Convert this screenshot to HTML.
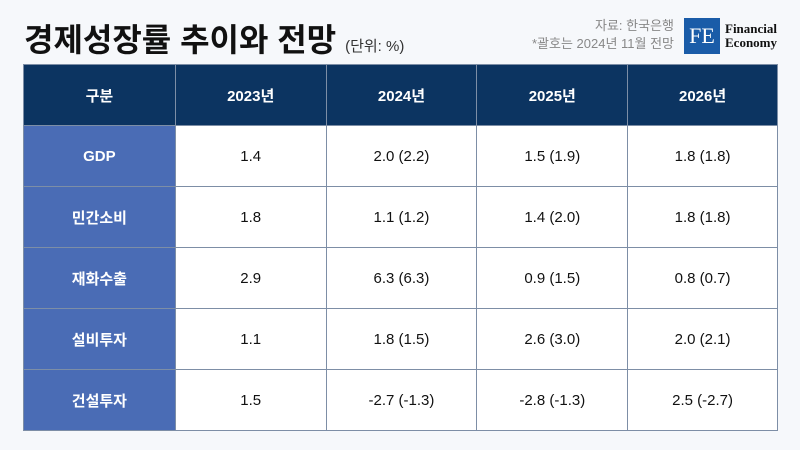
<!DOCTYPE html>
<html><head><meta charset="utf-8"><style>
body{margin:0;width:800px;height:450px;background:#f6f8fb;font-family:"Liberation Sans","Noto Sans CJK KR",sans-serif;position:relative;overflow:hidden}
.title{position:absolute;left:24px;top:15px;font-size:32px;font-weight:bold;color:#111;letter-spacing:0;white-space:nowrap}
.title span{font-size:15px;font-weight:normal;color:#333;letter-spacing:0}
.src{position:absolute;right:126px;top:17px;text-align:right;font-size:13px;color:#888;line-height:18px}
.logo{position:absolute;left:684px;top:18px;width:36px;height:36px;background:#1a5ca8;color:#fff;font-family:"Liberation Serif",serif;font-size:22px;text-align:center;line-height:36px}
.logotxt{position:absolute;left:725px;top:22px;font-family:"Liberation Serif",serif;font-weight:bold;font-size:13px;line-height:14px;color:#111}
table{position:absolute;left:23px;top:64px;border-collapse:collapse;width:755px}
td,th{border:1px solid #7d8ea6;text-align:center;font-size:15px;height:60px;padding:0}
th{background:#0c3461;color:#fff;font-weight:bold;height:60px}
td.h{background:#4a6cb5;color:#fff;font-weight:bold}
td{background:#fff;color:#111}
</style></head><body>
<div class="title">경제성장률 추이와 전망 <span>(단위: %)</span></div>
<div class="src">자료: 한국은행<br>*괄호는 2024년 11월 전망</div>
<div class="logo">FE</div>
<div class="logotxt">Financial<br>Economy</div>
<table>
<colgroup><col style="width:152px"><col style="width:151px"><col style="width:151px"><col style="width:151px"><col style="width:150px"></colgroup>
<tr><th>구분</th><th>2023년</th><th>2024년</th><th>2025년</th><th>2026년</th></tr>
<tr><td class="h">GDP</td><td>1.4</td><td>2.0 (2.2)</td><td>1.5 (1.9)</td><td>1.8 (1.8)</td></tr>
<tr><td class="h">민간소비</td><td>1.8</td><td>1.1 (1.2)</td><td>1.4 (2.0)</td><td>1.8 (1.8)</td></tr>
<tr><td class="h">재화수출</td><td>2.9</td><td>6.3 (6.3)</td><td>0.9 (1.5)</td><td>0.8 (0.7)</td></tr>
<tr><td class="h">설비투자</td><td>1.1</td><td>1.8 (1.5)</td><td>2.6 (3.0)</td><td>2.0 (2.1)</td></tr>
<tr><td class="h">건설투자</td><td>1.5</td><td>-2.7 (-1.3)</td><td>-2.8 (-1.3)</td><td>2.5 (-2.7)</td></tr>
</table>
</body></html>
